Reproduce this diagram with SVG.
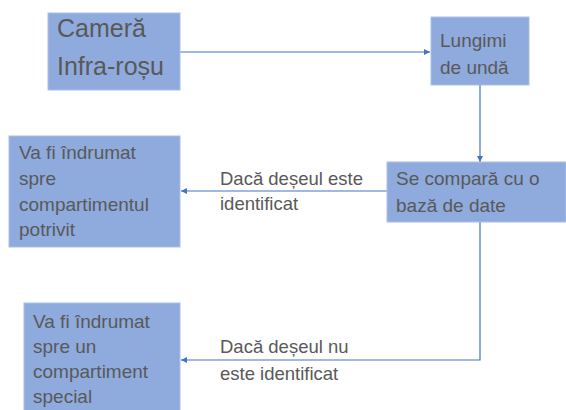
<svg xmlns="http://www.w3.org/2000/svg" width="566" height="410" viewBox="0 0 566 410">
<defs>
<style>
.box{fill:#8faadc;stroke:#a9bfe8;stroke-width:1}
.t{font-family:"Liberation Sans","Open Sans",sans-serif;fill:#595959;font-size:19px}
.lbl{font-size:18.5px}
.big{font-size:25px}
.conn{fill:none;stroke:#4472c4;stroke-width:1.2}
</style>
<marker id="ah" viewBox="0 0 10 10" refX="10" refY="5" markerWidth="6" markerHeight="6" markerUnits="userSpaceOnUse" orient="auto"><path d="M0,0 L10,5 L0,10 z" fill="#4472c4"/></marker>
</defs>
<rect width="566" height="410" fill="#ffffff"/>
<g id="connectors">
<line class="conn" x1="180" y1="52" x2="430" y2="52" marker-end="url(#ah)"/>
<line class="conn" x1="480" y1="85" x2="480" y2="162" marker-end="url(#ah)"/>
<line class="conn" x1="387" y1="191" x2="181" y2="191" marker-end="url(#ah)"/>
<polyline class="conn" points="480,222 480,360 181,360" marker-end="url(#ah)"/>
<text class="t lbl" x="220" y="185">Dacă deșeul este</text>
<text class="t lbl" x="220" y="210">identificat</text>
<text class="t lbl" x="220" y="353">Dacă deșeul nu</text>
<text class="t lbl" x="220" y="380">este identificat</text>
</g>
<g id="camera">
<rect class="box" x="48" y="13" width="132" height="77"/>
<text class="t big" x="57" y="37">Cameră</text>
<text class="t big" x="57" y="75">Infra-roșu</text>
</g>
<g id="lungimi">
<rect class="box" x="431" y="17" width="98" height="68"/>
<text class="t" x="440" y="47">Lungimi</text>
<text class="t" x="440" y="74">de undă</text>
</g>
<g id="compara">
<rect class="box" x="387" y="162" width="179" height="60"/>
<text class="t" x="396" y="185">Se compară cu o</text>
<text class="t" x="396" y="212">bază de date</text>
</g>
<g id="potrivit">
<rect class="box" x="9" y="136" width="171" height="111"/>
<text class="t" x="19" y="159">Va fi îndrumat</text>
<text class="t" x="19" y="185">spre</text>
<text class="t" x="19" y="211">compartimentul</text>
<text class="t" x="19" y="236">potrivit</text>
</g>
<g id="special">
<rect class="box" x="24" y="303" width="156" height="110"/>
<text class="t" x="33" y="328">Va fi îndrumat</text>
<text class="t" x="33" y="353">spre un</text>
<text class="t" x="33" y="378">compartiment</text>
<text class="t" x="33" y="403">special</text>
</g>
</svg>
